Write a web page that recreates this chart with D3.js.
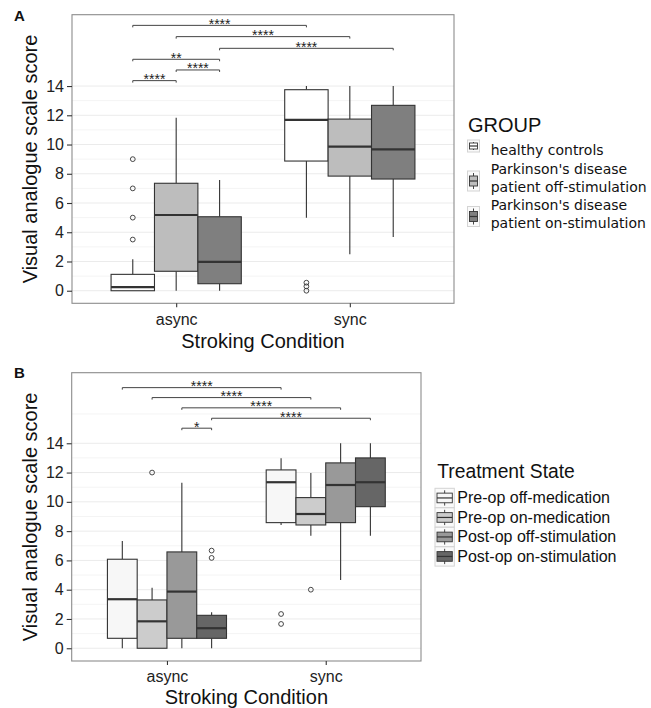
<!DOCTYPE html>
<html>
<head>
<meta charset="utf-8">
<script src="https://cdn.jsdelivr.net/npm/d3@7"></script>
<style>
  body { margin: 0; background: #fff; }
  text { font-family: "Liberation Sans", Arial, sans-serif; }
</style>
</head>
<body>
<svg id="chart" width="651" height="708"></svg>
<script>
const conditions = ["async", "sync"];
const yTicks = [0, 2, 4, 6, 8, 10, 12, 14];

// Panel A -- each row: [lower whisker, Q1, median, Q3, upper whisker], one per condition
const groupsA = ["healthy controls", "PD off-stimulation", "PD on-stimulation"];
const legendLabelsA = [["healthy controls"], ["Parkinson's disease", "patient off-stimulation"], ["Parkinson's disease", "patient on-stimulation"]];
const healthyControls = [[0, 0, 0.25, 1.12, 2.15], [5.0, 8.87, 11.68, 13.75, 14]];
const pdOffStim = [[0, 1.33, 5.18, 7.35, 11.83], [2.5, 7.84, 9.85, 11.74, 14]];
const pdOnStim = [[0, 0.48, 1.98, 5.06, 7.57], [3.67, 7.64, 9.67, 12.68, 14]];
const healthyOutliers = [[9, 7, 5, 3.5], [0.55, 0.3, 0]];
const pdOffOutliers = [[], []];
const pdOnOutliers = [[], []];
const fillsA = ["#ffffff", "#bdbdbd", "#7f7f7f"];

// significance brackets: [group, condition] -> [group, condition], height, stars
const bracketsA = [
  { from: [0, 0], to: [0, 1], y: 18.15, label: "****" },
  { from: [1, 0], to: [1, 1], y: 17.38, label: "****" },
  { from: [2, 0], to: [2, 1], y: 16.58, label: "****" },
  { from: [0, 0], to: [2, 0], y: 15.83, label: "**" },
  { from: [1, 0], to: [2, 0], y: 15.1, label: "****" },
  { from: [0, 0], to: [1, 0], y: 14.37, label: "****" }
];

// Panel B
const groupsB = ["Pre-op off-medication", "Pre-op on-medication", "Post-op off-stimulation", "Post-op on-stimulation"];
const preOpOffMed = [[0, 0.68, 3.35, 6.08, 7.33], [8.42, 8.58, 11.34, 12.18, 12.98]];
const preOpOnMed = [[0, 0, 1.84, 3.3, 4.14], [7.69, 8.42, 9.17, 10.29, 11.97]];
const postOpOffStim = [[0, 0.68, 3.87, 6.58, 11.31], [4.67, 8.58, 11.15, 12.66, 14]];
const postOpOnStim = [[0, 0.68, 1.37, 2.25, 2.46], [7.69, 9.67, 11.34, 13.0, 14]];
const preOpOffOutliers = [[], [2.34, 1.66]];
const preOpOnOutliers = [[12], [4]];
const postOpOffOutliers = [[], []];
const postOpOnOutliers = [[6.67, 6.17], []];
const fillsB = ["#f7f7f7", "#cccccc", "#999999", "#666666"];

const bracketsB = [
  { from: [0, 0], to: [0, 1], y: 17.8, label: "****" },
  { from: [1, 0], to: [1, 1], y: 17.12, label: "****" },
  { from: [2, 0], to: [2, 1], y: 16.42, label: "****" },
  { from: [3, 0], to: [3, 1], y: 15.71, label: "****" },
  { from: [2, 0], to: [3, 0], y: 15.03, label: "*" }
];

const svg = d3.select("#chart");
svg.append("rect").attr("width", 651).attr("height", 708).attr("fill", "#fff");

function drawPanel({ box, yDomain, groups, stats, outliers, fills, brackets, extraGrid, letter, letterY, tickY, titleY }) {
  const g = svg.append("g");

  const x = d3.scalePoint().domain(conditions).range([box.left, box.right]).padding(0.6);
  const dodge = d3.scaleBand().domain(d3.range(groups.length))
    .range([-0.375 * x.step(), 0.375 * x.step()]);
  const y = d3.scaleLinear().domain(yDomain).range([box.bottom, box.top]);
  const xc = (gi, ci) => x(conditions[ci]) + dodge(gi) + dodge.bandwidth() / 2;

  // grid
  const minor = d3.range(1, 14, 2);
  g.selectAll(".minor").data(minor.concat(extraGrid)).enter().append("line")
    .attr("x1", box.left).attr("x2", box.right)
    .attr("y1", d => y(d)).attr("y2", d => y(d))
    .attr("stroke", "#f4f4f4").attr("stroke-width", 1);
  g.selectAll(".major").data(yTicks).enter().append("line")
    .attr("x1", box.left).attr("x2", box.right)
    .attr("y1", d => y(d)).attr("y2", d => y(d))
    .attr("stroke", "#ebebeb").attr("stroke-width", 1);

  // boxes
  groups.forEach((grp, gi) => {
    conditions.forEach((c, ci) => {
      const [lo, q1, med, q3, hi] = stats[gi][ci];
      const cx = xc(gi, ci);
      const w = dodge.bandwidth();
      if (hi > q3) g.append("line").attr("x1", cx).attr("x2", cx).attr("y1", y(q3)).attr("y2", y(hi))
        .attr("stroke", "#333").attr("stroke-width", 1.1);
      if (lo < q1) g.append("line").attr("x1", cx).attr("x2", cx).attr("y1", y(q1)).attr("y2", y(lo))
        .attr("stroke", "#333").attr("stroke-width", 1.1);
      g.append("rect").attr("x", cx - w / 2).attr("width", w)
        .attr("y", y(q3)).attr("height", y(q1) - y(q3))
        .attr("fill", fills[gi]).attr("stroke", "#333").attr("stroke-width", 1.1);
      g.append("line").attr("x1", cx - w / 2).attr("x2", cx + w / 2)
        .attr("y1", y(med)).attr("y2", y(med))
        .attr("stroke", "#333").attr("stroke-width", 2.2);
      g.selectAll(null).data(outliers[gi][ci]).enter().append("circle")
        .attr("cx", cx).attr("cy", d => y(d)).attr("r", 2.4)
        .attr("fill", "none").attr("stroke", "#333").attr("stroke-width", 0.9);
    });
  });

  // brackets
  brackets.forEach(b => {
    const x1 = xc(b.from[0], b.from[1]);
    const x2 = xc(b.to[0], b.to[1]);
    const yy = y(b.y);
    g.append("path")
      .attr("d", `M${x1},${yy + 2}V${yy}H${x2}V${yy + 2}`)
      .attr("fill", "none").attr("stroke", "#444").attr("stroke-width", 1);
    g.append("text").attr("x", (x1 + x2) / 2).attr("y", yy + 3.5)
      .attr("text-anchor", "middle").attr("font-size", 14).attr("fill", "#222")
      .text(b.label);
  });

  // panel border
  g.append("rect").attr("x", box.left).attr("y", box.top)
    .attr("width", box.right - box.left).attr("height", box.bottom - box.top)
    .attr("fill", "none").attr("stroke", "#8c8c8c").attr("stroke-width", 1.1);

  // axes
  const yAxis = g.append("g").attr("transform", `translate(${box.left},0)`)
    .call(d3.axisLeft(y).tickValues(yTicks).tickSize(5).tickPadding(3));
  const xAxis = g.append("g").attr("transform", `translate(0,${box.bottom})`)
    .call(d3.axisBottom(x).tickSize(4).tickPadding(4));
  [yAxis, xAxis].forEach(a => {
    a.select(".domain").remove();
    a.selectAll(".tick line").attr("stroke", "#333").attr("stroke-width", 1.1);
    a.selectAll("text").attr("font-size", 16).attr("fill", "#222");
  });
  xAxis.selectAll("text").attr("dy", null).attr("y", tickY - box.bottom);

  g.append("text").attr("x", (box.left + box.right) / 2).attr("y", titleY)
    .attr("text-anchor", "middle").attr("font-size", 20).attr("fill", "#111")
    .text("Stroking Condition");
  g.append("text")
    .attr("transform", `translate(36.5,${(box.top + box.bottom) / 2}) rotate(-90)`)
    .attr("text-anchor", "middle").attr("font-size", 20).attr("fill", "#111")
    .text("Visual analogue scale score");

  g.append("text").attr("x", 14).attr("y", letterY)
    .attr("font-size", 15).attr("font-weight", "bold").attr("fill", "#111")
    .text(letter);
}

function drawKey(x0, y0, w, h, fill) {
  const k = svg.append("g");
  k.append("rect").attr("x", x0).attr("y", y0).attr("width", w).attr("height", h)
    .attr("fill", "#fafafa").attr("stroke", "#d4d4d4").attr("stroke-width", 1);
  const cx = x0 + w / 2;
  k.append("line").attr("x1", cx).attr("x2", cx).attr("y1", y0 + 2).attr("y2", y0 + h - 2)
    .attr("stroke", "#333").attr("stroke-width", 0.9);
  k.append("rect").attr("x", x0 + 2).attr("y", y0 + h * 0.25).attr("width", w - 4).attr("height", h * 0.5)
    .attr("fill", fill).attr("stroke", "#333").attr("stroke-width", 0.9);
  k.append("line").attr("x1", x0 + 2).attr("x2", x0 + w - 2).attr("y1", y0 + h / 2).attr("y2", y0 + h / 2)
    .attr("stroke", "#333").attr("stroke-width", 1.2);
}

drawPanel({
  box: { left: 72, right: 454, top: 14.7, bottom: 303.3 },
  yDomain: [-0.86, 18.88],
  groups: groupsA,
  stats: [healthyControls, pdOffStim, pdOnStim],
  outliers: [healthyOutliers, pdOffOutliers, pdOnOutliers],
  fills: fillsA,
  brackets: bracketsA,
  extraGrid: [],
  letter: "A", letterY: 20.7, tickY: 325, titleY: 348
});

drawPanel({
  box: { left: 71.7, right: 421, top: 372.7, bottom: 661 },
  yDomain: [-0.87, 18.82],
  groups: groupsB,
  stats: [preOpOffMed, preOpOnMed, postOpOffStim, postOpOnStim],
  outliers: [preOpOffOutliers, preOpOnOutliers, postOpOffOutliers, postOpOnOutliers],
  fills: fillsB,
  brackets: bracketsB,
  extraGrid: [16],
  letter: "B", letterY: 377.5, tickY: 682, titleY: 704
});

// legend A
svg.append("text").attr("x", 468).attr("y", 131.7).attr("font-size", 20).attr("fill", "#111").text("GROUP");
const keyA = [[140, 12], [171, 20], [206.5, 20]];
const lineA = [[155], [173.5, 191.5], [209.5, 228]];
legendLabelsA.forEach((lines, i) => {
  drawKey(467.5, keyA[i][0], 12, keyA[i][1], fillsA[i]);
  lines.forEach((t, j) => {
    svg.append("text").attr("x", 490.7).attr("y", lineA[i][j])
      .style("font-family", "'DejaVu Sans', sans-serif").attr("font-size", 14).attr("fill", "#111")
      .text(t);
  });
});

// legend B
svg.append("text").attr("x", 437.3).attr("y", 478.3).attr("font-size", 19.3).attr("fill", "#111").text("Treatment State");
groupsB.forEach((t, i) => {
  const top = 488.3 + i * 19.5;
  drawKey(435, top, 19.3, 19.3, fillsB[i]);
  svg.append("text").attr("x", 457.3).attr("y", top + 15).attr("font-size", 16).attr("fill", "#111").text(t);
});
</script>
</body>
</html>
